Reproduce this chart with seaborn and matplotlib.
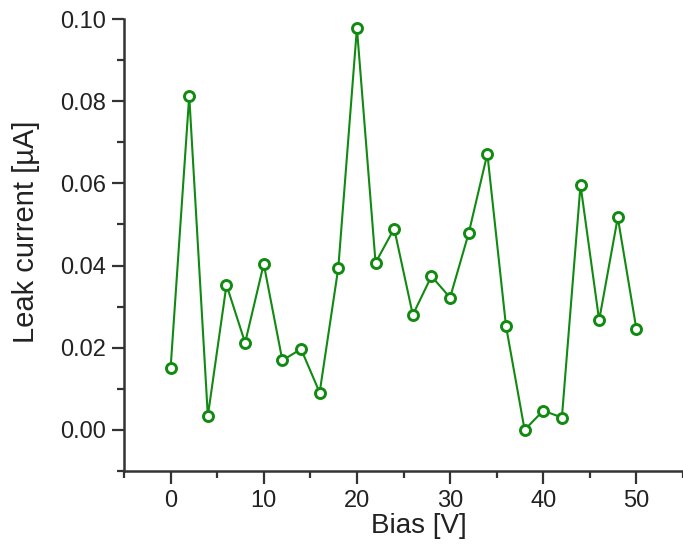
import matplotlib
matplotlib.use("Agg")
import matplotlib.pyplot as plt
import seaborn as sns
import pandas as pd
from matplotlib.ticker import MultipleLocator

bias = [0, 2, 4, 6, 8, 10, 12, 14, 16, 18, 20, 22, 24, 26, 28, 30, 32, 34, 36, 38, 40, 42, 44, 46, 48, 50]
leak = [0.0150, 0.0813, 0.0034, 0.0353, 0.0212, 0.0404, 0.0169, 0.0197, 0.0091, 0.0394,
        0.0978, 0.0407, 0.0490, 0.0280, 0.0374, 0.0322, 0.0479, 0.0672, 0.0253, 0.0000,
        0.0047, 0.0030, 0.0596, 0.0267, 0.0517, 0.0245]
x_ticks = [0, 10, 20, 30, 40, 50]
y_ticks = [0.00, 0.02, 0.04, 0.06, 0.08, 0.10]

df = pd.DataFrame({"Bias": bias, "Leak": leak})

sns.set_theme(style="ticks")
plt.rcParams['font.family'] = ['Liberation Sans', 'DejaVu Sans']

fig = plt.figure(figsize=(6.83, 5.47), dpi=100)
ax = fig.add_axes([124/683, 1-471/547, 1-124/683, (471-19)/547])

green = "#108a10"
sns.lineplot(data=df, x="Bias", y="Leak", ax=ax, color=green, linewidth=1.5,
             marker="o", markersize=7.2, markerfacecolor="white",
             markeredgecolor=green, markeredgewidth=2.1)

ax.set_xlim(-5, 55)
ax.set_ylim(-0.01, 0.10)
ax.set_xticks(x_ticks)
ax.set_yticks(y_ticks)
ax.set_xticklabels([str(v) for v in x_ticks])
ax.set_yticklabels([f"{v:.2f}" for v in y_ticks])
ax.xaxis.set_minor_locator(MultipleLocator(5))
ax.yaxis.set_minor_locator(MultipleLocator(0.01))

for s in ["top", "right"]:
    ax.spines[s].set_visible(False)
for s in ["left", "bottom"]:
    ax.spines[s].set_color("#333333")
    ax.spines[s].set_linewidth(1.8)

ax.tick_params(which="major", direction="out", length=9, width=1.6, color="#333333",
               labelsize=17, labelcolor="#222222")
ax.tick_params(axis="y", which="major", pad=4)
ax.tick_params(axis="x", which="major", pad=5)
ax.tick_params(which="minor", direction="out", length=5, width=1.6, color="#333333")

ax.set_xlabel("Bias [V]", fontsize=20, color="#222222")
ax.set_ylabel("Leak current [µA]", fontsize=21, color="#222222")
ax.xaxis.set_label_coords(0.528, -0.093)
ax.yaxis.set_label_coords(-0.150, 0.529)

fig.savefig("out.png", dpi=100)
